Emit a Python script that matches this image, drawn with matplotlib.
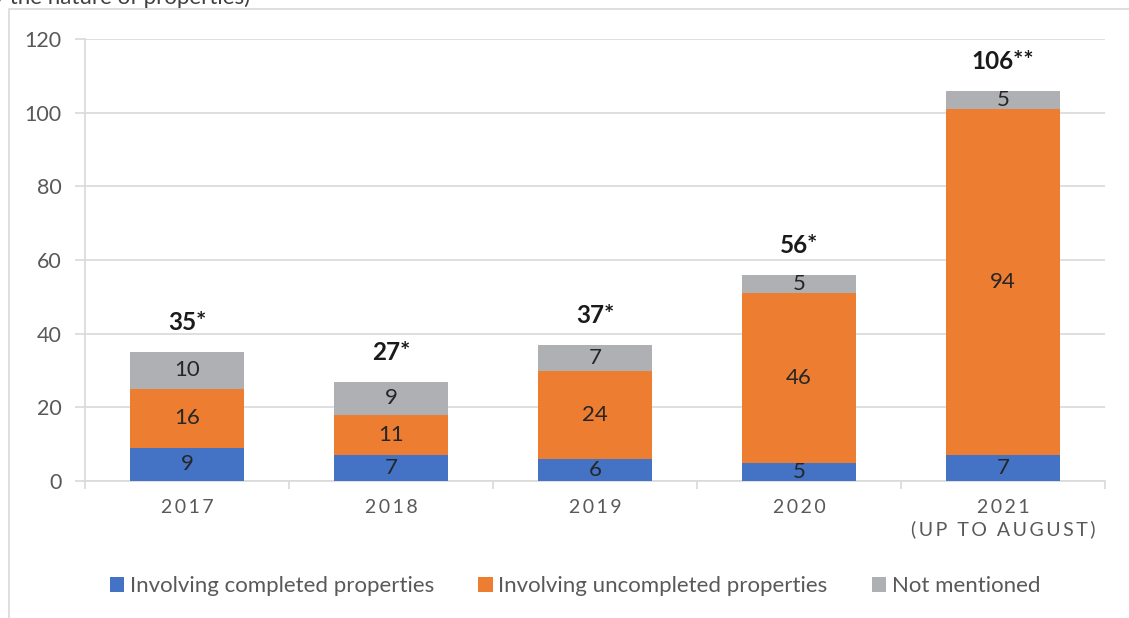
import matplotlib
matplotlib.use("Agg")
import matplotlib.pyplot as plt
import matplotlib.patches as mpatches
import numpy as np

# ---------------------------------------------------------------------------
# Data
# ---------------------------------------------------------------------------
years = ["2017", "2018", "2019", "2020", "2021"]
year_notes = ["", "", "", "", "(UP TO AUGUST)"]
completed = [9, 7, 6, 5, 7]
uncompleted = [16, 11, 24, 46, 94]
not_mentioned = [10, 9, 7, 5, 5]
total_labels = ["35*", "27*", "37*", "56*", "106**"]

series_names = ["Involving completed properties",
                "Involving uncompleted properties",
                "Not mentioned"]
colors = ["#4472C4", "#ED7D31", "#AFB0B3"]

FONT = ["Lato", "DejaVu Sans"]
plt.rcParams["font.family"] = FONT

W, H = 1129, 618


def spaced(s):
    # mimic the letter spacing of the category labels
    return "\u2009".join(list(s)).replace("\u2009 \u2009", "\u2009\u2009\u2009\u2009")


fig = plt.figure(figsize=(W / 100, H / 100), dpi=100)

# outer chart frame (runs off the right and bottom edges)
frame = mpatches.Rectangle((9 / W, -0.1), 1.2, 1 - 9 / H + 0.1,
                           transform=fig.transFigure, fill=False,
                           edgecolor="#D9D9D9", linewidth=1.2, zorder=0)
fig.patches.append(frame)

# clipped title fragment at the top
fig.text(250 / W, 1 - 4 / H, "(by the nature of properties)", ha="right",
         va="baseline", fontsize=16, color="#404040")

ax = fig.add_axes([85 / W, 1 - 481 / H, 1020 / W, (481 - 39) / H])

x = np.arange(len(years))
width = 0.56
bottoms = np.zeros(len(years))
stacks = [completed, uncompleted, not_mentioned]
for vals, name, color in zip(stacks, series_names, colors):
    vals = np.array(vals)
    ax.bar(x, vals, width, bottom=bottoms, color=color, label=name, zorder=3)
    for xi, b, v in zip(x, bottoms, vals):
        ax.text(xi, b + v / 2, str(v), ha="center", va="center",
                fontsize=16, color="#262626", zorder=4)
    bottoms = bottoms + vals

for xi, tot, lab in zip(x, bottoms, total_labels):
    ax.annotate(lab, xy=(xi, tot), xytext=(0, 21), textcoords="offset points",
                ha="center", va="center", fontsize=17.5, fontweight="bold",
                color="#1A1A1A")

ax.set_xlim(-0.5, len(years) - 0.5)
ax.set_ylim(0, 120)
ax.set_yticks(np.arange(0, 121, 20))
ax.grid(True, axis="y", color="#D9D9D9", linewidth=1.2, zorder=0)

labels = []
for y, note in zip(years, year_notes):
    lab = spaced(y)
    if note:
        lab = lab + "\n" + spaced(note)
    labels.append(lab)
ax.set_xticks(x)
ax.set_xticklabels(labels, fontsize=14, color="#595959", linespacing=1.25)
ax.set_xticks(np.arange(-0.5, len(years), 1), minor=True)
ax.tick_params(axis="x", which="major", length=0, pad=13)
ax.tick_params(axis="x", which="minor", length=6, width=1.2, color="#D9D9D9")
ax.tick_params(axis="y", length=7, width=1.2, color="#D9D9D9",
               labelsize=15.5, labelcolor="#595959", pad=10)

for side in ["top", "right"]:
    ax.spines[side].set_visible(False)
for side in ["left", "bottom"]:
    ax.spines[side].set_color("#D9D9D9")
    ax.spines[side].set_linewidth(1.2)

handles = [mpatches.Patch(facecolor=c, label=n) for c, n in zip(colors, series_names)]
fig.legend(handles=handles, loc="center", bbox_to_anchor=(575 / W, 1 - 586 / H),
           ncol=3, frameon=False, fontsize=16, labelcolor="#595959",
           handlelength=0.65, handleheight=0.65, handletextpad=0.25,
           columnspacing=2.0)

fig.savefig("out.png", dpi=100)
